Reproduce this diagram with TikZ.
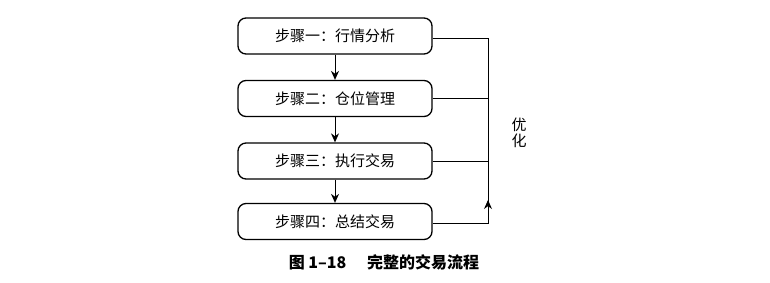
\documentclass[tikz,border=0pt]{standalone}
\usepackage{fontspec}
\newfontfamily\cjk{Noto Sans CJK SC}
\usetikzlibrary{arrows.meta,calc}
\begin{document}
\begin{tikzpicture}[x=1pt,y=-1pt,
  stepbox/.style={draw, line width=1.3pt, rounded corners=8pt, minimum width=194pt, minimum height=36pt, inner sep=0pt, font=\cjk\fontsize{15}{15}\selectfont},
  conn/.style={line width=0.9pt},
  arr/.style={conn, -{Stealth[length=9pt,width=8pt]}}]
\useasboundingbox (0,0) rectangle (770,282);
\node[stepbox] (s1) at (335,36) {步骤一：行情分析};
\node[stepbox] (s2) at (335,98.5) {步骤二：仓位管理};
\node[stepbox] (s3) at (335,161) {步骤三：执行交易};
\node[stepbox] (s4) at (335,221.5) {步骤四：总结交易};
\coordinate (top) at (488,38);
\coordinate (bot) at (488,223);
\draw[arr] (s1) -- (s2);
\draw[arr] (s2) -- (s3);
\draw[arr] (s3) -- (s4);
\draw[conn] (s1.east |- top) -- (top) -- (bot) -- (s4.east |- bot);
\draw[conn] (s2.east) -- (s2.east -| top);
\draw[conn] (s3.east) -- (s3.east -| top);
\draw[arr] (bot) -- ($(bot)+(0,-23)$);
\node[font=\cjk\fontsize{15}{16}\selectfont, align=center] (opt) at (519,133) {优\\化};
\node[font=\cjk\bfseries\fontsize{16}{16}\selectfont] (cap) at (384,262) {图 1–18\hspace{1.3em}完整的交易流程};
\end{tikzpicture}
\end{document}
